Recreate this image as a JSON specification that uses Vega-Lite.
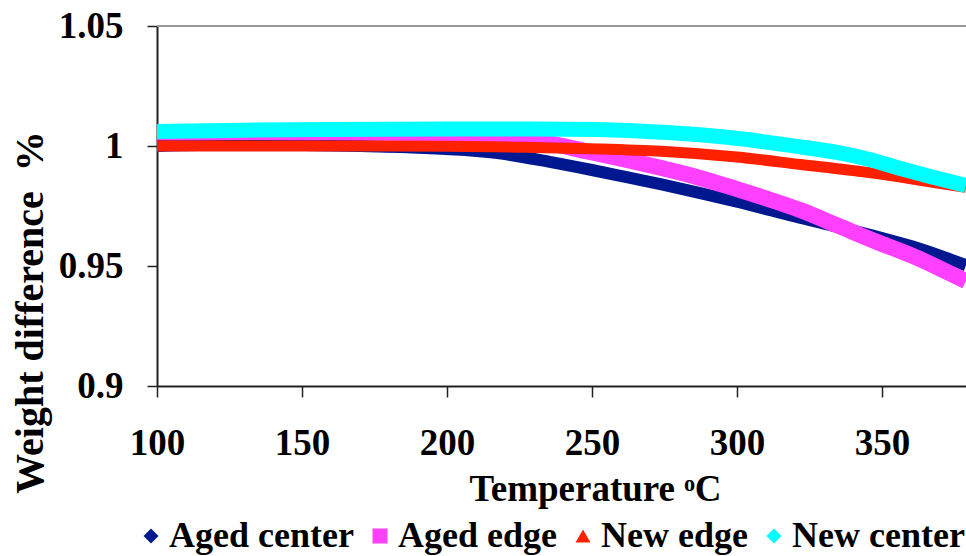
{
  "$schema": "https://vega.github.io/schema/vega-lite/v6.json",
  "width": 809,
  "height": 360,
  "autosize": {"type": "none"},
  "padding": {"left": 157, "top": 26, "right": 0, "bottom": 170},
  "background": "white",
  "config": {
    "view": {"stroke": null},
    "font": "Liberation Serif"
  },
  "data": {
    "values": [
      {"series": "Aged center", "T": 100, "w": 1.0000},
      {"series": "Aged center", "T": 115, "w": 1.0004},
      {"series": "Aged center", "T": 130, "w": 1.0005},
      {"series": "Aged center", "T": 150, "w": 1.0004},
      {"series": "Aged center", "T": 170, "w": 1.0000},
      {"series": "Aged center", "T": 190, "w": 0.9993},
      {"series": "Aged center", "T": 205, "w": 0.9984},
      {"series": "Aged center", "T": 220, "w": 0.9966},
      {"series": "Aged center", "T": 235, "w": 0.9935},
      {"series": "Aged center", "T": 250, "w": 0.9900},
      {"series": "Aged center", "T": 262, "w": 0.9870},
      {"series": "Aged center", "T": 274, "w": 0.9840},
      {"series": "Aged center", "T": 287, "w": 0.9805},
      {"series": "Aged center", "T": 300, "w": 0.9768},
      {"series": "Aged center", "T": 322, "w": 0.9700},
      {"series": "Aged center", "T": 340, "w": 0.9648},
      {"series": "Aged center", "T": 350, "w": 0.9617},
      {"series": "Aged center", "T": 360, "w": 0.9583},
      {"series": "Aged center", "T": 370, "w": 0.9543},
      {"series": "Aged center", "T": 379, "w": 0.9503},
      {"series": "Aged edge", "T": 100, "w": 1.0056},
      {"series": "Aged edge", "T": 130, "w": 1.0058},
      {"series": "Aged edge", "T": 160, "w": 1.0057},
      {"series": "Aged edge", "T": 190, "w": 1.0054},
      {"series": "Aged edge", "T": 210, "w": 1.0048},
      {"series": "Aged edge", "T": 222, "w": 1.0038},
      {"series": "Aged edge", "T": 232, "w": 1.0020},
      {"series": "Aged edge", "T": 240, "w": 1.0000},
      {"series": "Aged edge", "T": 248, "w": 0.9978},
      {"series": "Aged edge", "T": 260, "w": 0.9947},
      {"series": "Aged edge", "T": 274, "w": 0.9908},
      {"series": "Aged edge", "T": 287, "w": 0.9868},
      {"series": "Aged edge", "T": 300, "w": 0.9820},
      {"series": "Aged edge", "T": 312, "w": 0.9774},
      {"series": "Aged edge", "T": 322, "w": 0.9732},
      {"series": "Aged edge", "T": 335, "w": 0.9667},
      {"series": "Aged edge", "T": 349, "w": 0.9597},
      {"series": "Aged edge", "T": 360, "w": 0.9545},
      {"series": "Aged edge", "T": 370, "w": 0.9490},
      {"series": "Aged edge", "T": 379, "w": 0.9437},
      {"series": "New edge", "T": 100, "w": 1.0000},
      {"series": "New edge", "T": 150, "w": 1.0000},
      {"series": "New edge", "T": 200, "w": 0.9999},
      {"series": "New edge", "T": 230, "w": 0.9994},
      {"series": "New edge", "T": 253, "w": 0.9988},
      {"series": "New edge", "T": 274, "w": 0.9978},
      {"series": "New edge", "T": 299, "w": 0.9955},
      {"series": "New edge", "T": 322, "w": 0.9923},
      {"series": "New edge", "T": 345, "w": 0.9890},
      {"series": "New edge", "T": 358, "w": 0.9867},
      {"series": "New edge", "T": 367, "w": 0.9850},
      {"series": "New edge", "T": 379, "w": 0.9828},
      {"series": "New center", "T": 100, "w": 1.0060},
      {"series": "New center", "T": 130, "w": 1.0066},
      {"series": "New center", "T": 160, "w": 1.0069},
      {"series": "New center", "T": 200, "w": 1.0071},
      {"series": "New center", "T": 230, "w": 1.0071},
      {"series": "New center", "T": 252, "w": 1.0069},
      {"series": "New center", "T": 276, "w": 1.0056},
      {"series": "New center", "T": 299, "w": 1.0033},
      {"series": "New center", "T": 322, "w": 0.9996},
      {"series": "New center", "T": 335, "w": 0.9972},
      {"series": "New center", "T": 345, "w": 0.9946},
      {"series": "New center", "T": 358, "w": 0.9901},
      {"series": "New center", "T": 368, "w": 0.9869},
      {"series": "New center", "T": 379, "w": 0.9835}
    ]
  },
  "encoding": {
    "x": {
      "field": "T",
      "type": "quantitative",
      "scale": {"domain": [100, 379], "nice": false, "zero": false},
      "axis": {
        "values": [100, 150, 200, 250, 300, 350],
        "title": "Temperature ᵒC",
        "titleFont": "Liberation Serif",
        "titleFontSize": 37,
        "titleFontWeight": "bold",
        "titleColor": "black",
        "titleAlign": "center",
        "titleBaseline": "alphabetic",
        "titleX": 438,
        "titleY": 114,
        "labelFont": "Liberation Serif",
        "labelFontSize": 37,
        "labelFontWeight": "bold",
        "labelColor": "black",
        "labelFlush": false,
        "labelPadding": 28,
        "tickSize": 11,
        "tickColor": "#222",
        "tickWidth": 1.5,
        "domainColor": "#222",
        "domainWidth": 2,
        "grid": false
      }
    },
    "y": {
      "field": "w",
      "type": "quantitative",
      "scale": {"domain": [0.9, 1.05], "nice": false, "zero": false},
      "axis": {
        "values": [0.9, 0.95, 1, 1.05],
        "format": "~g",
        "title": "Weight difference\u00a0 %",
        "titleFont": "Liberation Serif",
        "titleFontSize": 40,
        "titleFontWeight": "bold",
        "titleColor": "black",
        "titleAngle": -90,
        "titleAlign": "center",
        "titleBaseline": "alphabetic",
        "titleX": -115,
        "titleY": 286,
        "labelFont": "Liberation Serif",
        "labelFontSize": 37,
        "labelFontWeight": "bold",
        "labelColor": "black",
        "labelFlush": false,
        "labelPadding": 24,
        "tickSize": 10,
        "tickColor": "#222",
        "tickWidth": 1.5,
        "domainColor": "#222",
        "domainWidth": 2,
        "grid": false
      }
    },
    "color": {
      "field": "series",
      "type": "nominal",
      "scale": {
        "domain": ["Aged center", "Aged edge", "New edge", "New center"],
        "range": ["#00188f", "#ff40ff", "#ff2000", "#00ffff"]
      },
      "legend": {
        "title": null,
        "orient": "none",
        "direction": "horizontal",
        "legendX": -24,
        "legendY": 492,
        "labelFont": "Liberation Serif",
        "labelFontSize": 36,
        "labelFontWeight": "bold",
        "labelColor": "black",
        "labelLimit": 400,
        "labelOffset": 0,
        "columnPadding": 8,
        "symbolStrokeWidth": 0,
        "encode": {
          "symbols": {
            "update": {
              "strokeWidth": {"value": 0},
              "opacity": {"value": 1}
            }
          }
        }
      }
    }
  },
  "layer": [
    {
      "mark": {"type": "point", "filled": true, "opacity": 0},
      "encoding": {
        "shape": {
          "field": "series",
          "type": "nominal",
          "scale": {
            "domain": ["Aged center", "Aged edge", "New edge", "New center"],
            "range": ["diamond", "square", "triangle-up", "diamond"]
          }
        },
        "size": {
          "field": "series",
          "type": "nominal",
          "scale": {
            "domain": ["Aged center", "Aged edge", "New edge", "New center"],
            "range": [225, 225, 110, 225]
          }
        }
      }
    },
    {
      "mark": {"type": "rule", "color": "#999999", "strokeWidth": 2},
      "encoding": {
        "y": {"datum": 1.05},
        "x": null,
        "color": null
      }
    },
    {
      "transform": [{"filter": "datum.series === 'Aged center'"}],
      "mark": {"type": "line", "interpolate": "monotone", "clip": true, "strokeCap": "butt", "strokeWidth": 12},
      "encoding": {}
    },
    {
      "transform": [{"filter": "datum.series === 'Aged edge'"}],
      "mark": {"type": "line", "interpolate": "monotone", "clip": true, "strokeCap": "butt", "strokeWidth": 16},
      "encoding": {}
    },
    {
      "transform": [{"filter": "datum.series === 'New edge'"}],
      "mark": {"type": "line", "interpolate": "monotone", "clip": true, "strokeCap": "butt", "strokeWidth": 11},
      "encoding": {}
    },
    {
      "transform": [{"filter": "datum.series === 'New center'"}],
      "mark": {"type": "line", "interpolate": "monotone", "clip": true, "strokeCap": "butt", "strokeWidth": 15},
      "encoding": {}
    }
  ]
}
